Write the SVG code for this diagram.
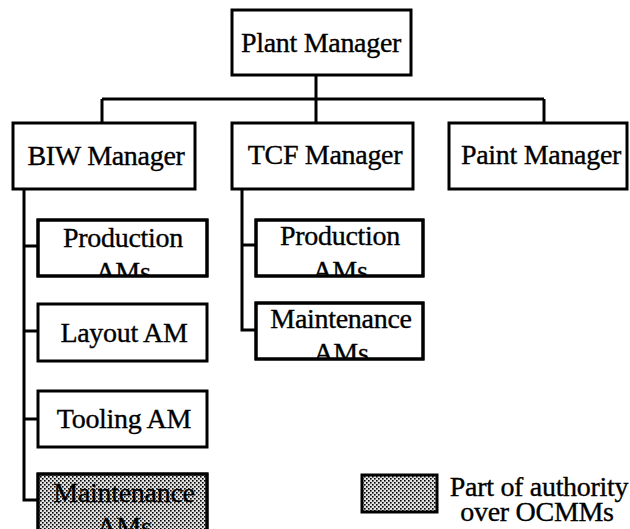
<svg xmlns="http://www.w3.org/2000/svg" width="630" height="529" viewBox="0 0 630 529">
<style>
.box{fill:#fff;stroke:#000;stroke-width:3}
.frame{fill:none;stroke:#000;stroke-width:3}
.shade{fill:url(#dots)}
.t{font-family:"Liberation Serif","Times New Roman",serif;font-size:28px;letter-spacing:-0.3px;text-anchor:middle;fill:#000;stroke:#000;stroke-width:0.35}
.conn{stroke:#000;stroke-width:3;fill:none}
</style>
<defs>
<pattern id="dots" x="0" y="0" width="4" height="4" patternUnits="userSpaceOnUse">
<rect width="4" height="4" fill="#e2e2e2"/>
<rect x="0" y="0" width="1.6" height="1.6" fill="#000"/>
<rect x="2" y="2" width="1.6" height="1.6" fill="#000"/>
</pattern>
<clipPath id="cpBP"><rect x="38" y="220" width="169" height="56"/></clipPath>
<clipPath id="cpTP"><rect x="256" y="220" width="167" height="56"/></clipPath>
<clipPath id="cpTM"><rect x="256" y="303" width="167" height="56"/></clipPath>
<clipPath id="cpBM"><rect x="38" y="474" width="169" height="70"/></clipPath>
</defs>

<g id="connectors">
<path class="conn" d="M316 75 V123"/>
<path class="conn" d="M102 99 H544"/>
<path class="conn" d="M102 99 V123"/>
<path class="conn" d="M544 99 V123"/>
<path class="conn" d="M24 189 V500 H38"/>
<path class="conn" d="M24 246 H38 M24 331 H38 M24 419 H38"/>
<path class="conn" d="M242 189 V330 H256"/>
<path class="conn" d="M242 245 H256"/>
</g>

<g id="plant-manager">
<rect class="box" x="232" y="10" width="179" height="65"/>
<text class="t" x="321" y="52">Plant Manager</text>
</g>
<g id="biw-manager">
<rect class="box" x="13" y="123" width="182" height="66"/>
<text class="t" x="106" y="165">BIW Manager</text>
</g>
<g id="tcf-manager">
<rect class="box" x="232" y="123" width="181" height="66"/>
<text class="t" x="325" y="164">TCF Manager</text>
</g>
<g id="paint-manager">
<rect class="box" x="449" y="123" width="178" height="66"/>
<text class="t" x="541" y="164">Paint Manager</text>
</g>

<g id="biw-production">
<rect class="box" x="38" y="220" width="169" height="56"/>
<g clip-path="url(#cpBP)"><text class="t" x="123" y="247">Production</text><text class="t" x="123" y="281">AMs</text></g>
<rect class="frame" x="38" y="220" width="169" height="56"/>
</g>
<g id="biw-layout">
<rect class="box" x="38" y="304" width="169" height="57"/>
<text class="t" x="124" y="342">Layout AM</text>
</g>
<g id="biw-tooling">
<rect class="box" x="38" y="391" width="169" height="56"/>
<text class="t" x="124" y="428">Tooling AM</text>
</g>
<g id="biw-maintenance">
<rect class="box shade" x="38" y="474" width="169" height="70"/>
<g clip-path="url(#cpBM)"><text class="t" x="124" y="502">Maintenance</text><text class="t" x="124" y="536">AMs</text></g>
<rect class="frame" x="38" y="474" width="169" height="70"/>
</g>

<g id="tcf-production">
<rect class="box" x="256" y="220" width="167" height="56"/>
<g clip-path="url(#cpTP)"><text class="t" x="340" y="245">Production</text><text class="t" x="340" y="280">AMs</text></g>
<rect class="frame" x="256" y="220" width="167" height="56"/>
</g>
<g id="tcf-maintenance">
<rect class="box" x="256" y="303" width="167" height="56"/>
<g clip-path="url(#cpTM)"><text class="t" x="341" y="328">Maintenance</text><text class="t" x="341" y="362">AMs</text></g>
<rect class="frame" x="256" y="303" width="167" height="56"/>
</g>

<g id="legend">
<rect class="box shade" x="362" y="475" width="75" height="37"/>
<text class="t" x="539" y="496">Part of authority</text>
<text class="t" x="537" y="521">over OCMMs</text>
</g>
</svg>
